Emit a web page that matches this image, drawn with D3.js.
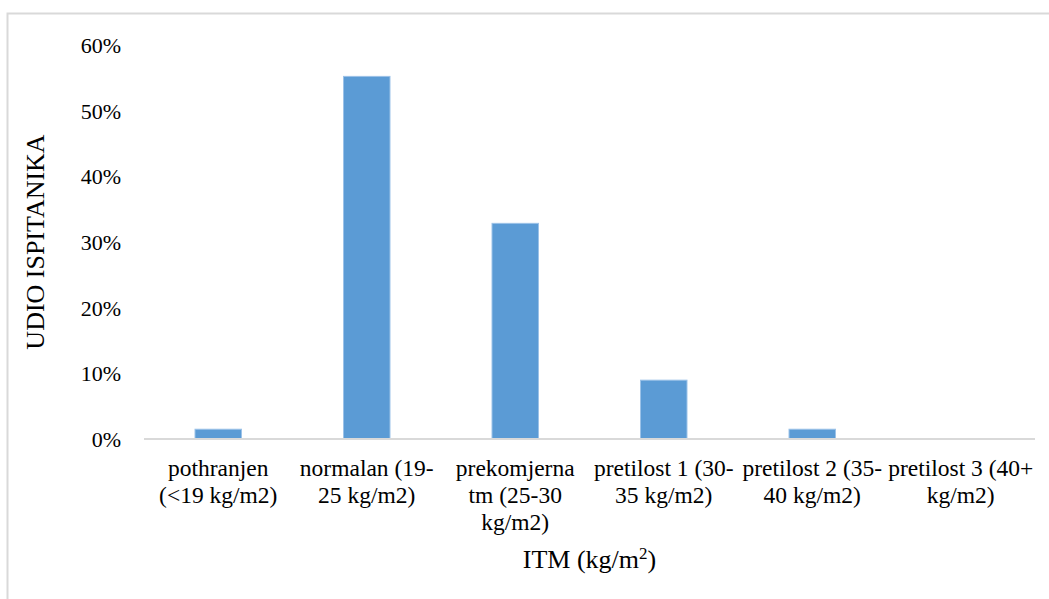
<!DOCTYPE html>
<html>
<head>
<meta charset="utf-8">
<script src="https://cdn.jsdelivr.net/npm/d3@7"></script>
<style>
  html, body { margin: 0; padding: 0; background: #fff; }
  svg { display: block; }
</style>
</head>
<body>
<svg id="chart" width="1049" height="599"></svg>
<script>
// ---- data ----
const categories = [
  "pothranjen (<19 kg/m2)",
  "normalan (19-25 kg/m2)",
  "prekomjerna tm (25-30 kg/m2)",
  "pretilost 1 (30-35 kg/m2)",
  "pretilost 2 (35-40 kg/m2)",
  "pretilost 3 (40+ kg/m2)"
];
const categoryLines = [
  ["pothranjen", "(<19 kg/m2)"],
  ["normalan (19-", "25 kg/m2)"],
  ["prekomjerna", "tm (25-30", "kg/m2)"],
  ["pretilost 1 (30-", "35 kg/m2)"],
  ["pretilost 2 (35-", "40 kg/m2)"],
  ["pretilost 3 (40+", "kg/m2)"]
];
const values = [0.0149, 0.5522, 0.3284, 0.0896, 0.0149, 0.0];
const yTicks = [0, 0.1, 0.2, 0.3, 0.4, 0.5, 0.6];
const yTitle = "UDIO ISPITANIKA";
const xTitle = "ITM (kg/m";
const xTitleSup = "2";

(function () {
const FONT = "'Liberation Serif', 'Times New Roman', serif";
const svg = d3.select("#chart");
const pLeft = 144, pRight = 1035, pTop = 45, pBottom = 439;

// outer frame
svg.append("rect")
  .attr("x", 7.5).attr("y", 13.5)
  .attr("width", 1100).attr("height", 700)
  .attr("fill", "none").attr("stroke", "#d9d9d9").attr("stroke-width", 2);

const x = d3.scaleBand().domain(categories).range([pLeft, pRight])
  .paddingInner(0.687).paddingOuter(0.3435);
const y = d3.scaleLinear().domain([0, 0.6]).range([pBottom, pTop]);

// y axis labels
const yAxis = d3.axisLeft(y).tickValues(yTicks).tickFormat(d3.format(".0%")).tickSize(0).tickPadding(0);
const gy = svg.append("g").attr("transform", `translate(121,0)`).call(yAxis);
gy.select(".domain").remove();
gy.attr("font-family", null).attr("font-size", null);
gy.selectAll("text")
  .attr("dy", "0.34em")
  .style("font-family", "'Times New Roman', serif")
  .style("font-size", "22px")
  .style("fill", "#000");

// bars
svg.append("g").selectAll("rect").data(values).join("rect")
  .attr("x", (d, i) => x(categories[i]))
  .attr("y", d => y(d))
  .attr("width", x.bandwidth())
  .attr("height", d => y(0) - y(d))
  .attr("fill", "#5b9bd5")
  .attr("stroke", "#9cc2e8")
  .attr("stroke-width", 1)
  .attr("display", d => d > 0 ? null : "none");

// x axis line
const xAxis = d3.axisBottom(x).tickSize(0).tickFormat("");
const gx = svg.append("g").attr("transform", `translate(0,${pBottom})`).call(xAxis);
gx.select(".domain").attr("stroke", "#d9d9d9").attr("stroke-width", 2).attr("d", `M${pLeft},0H${pRight}`);

// category labels
const labels = svg.append("g");
categoryLines.forEach((lines, i) => {
  const cx = x(categories[i]) + x.bandwidth() / 2;
  const t = labels.append("text").attr("x", cx).attr("y", 476)
    .attr("text-anchor", "middle")
    .style("font-family", "serif").style("font-size", "23.5px").style("fill", "#000");
  lines.forEach((ln, j) => {
    t.append("tspan").attr("x", cx).attr("y", 476 + j * 27).text(ln);
  });
});

// x title
const xt = svg.append("text")
  .attr("x", (pLeft + pRight) / 2).attr("y", 568)
  .attr("text-anchor", "middle")
  .style("font-family", FONT).style("font-size", "26px").style("fill", "#000");
xt.append("tspan").text(xTitle);
xt.append("tspan").style("font-size", "17px").attr("dy", -9).text(xTitleSup);
xt.append("tspan").attr("dy", 9).text(")");

// y title
svg.append("text")
  .attr("transform", `translate(44,${(pTop + pBottom) / 2}) rotate(-90)`)
  .attr("text-anchor", "middle")
  .style("font-family", FONT).style("font-size", "26px").style("fill", "#000")
  .text(yTitle);
})();
</script>
</body>
</html>
